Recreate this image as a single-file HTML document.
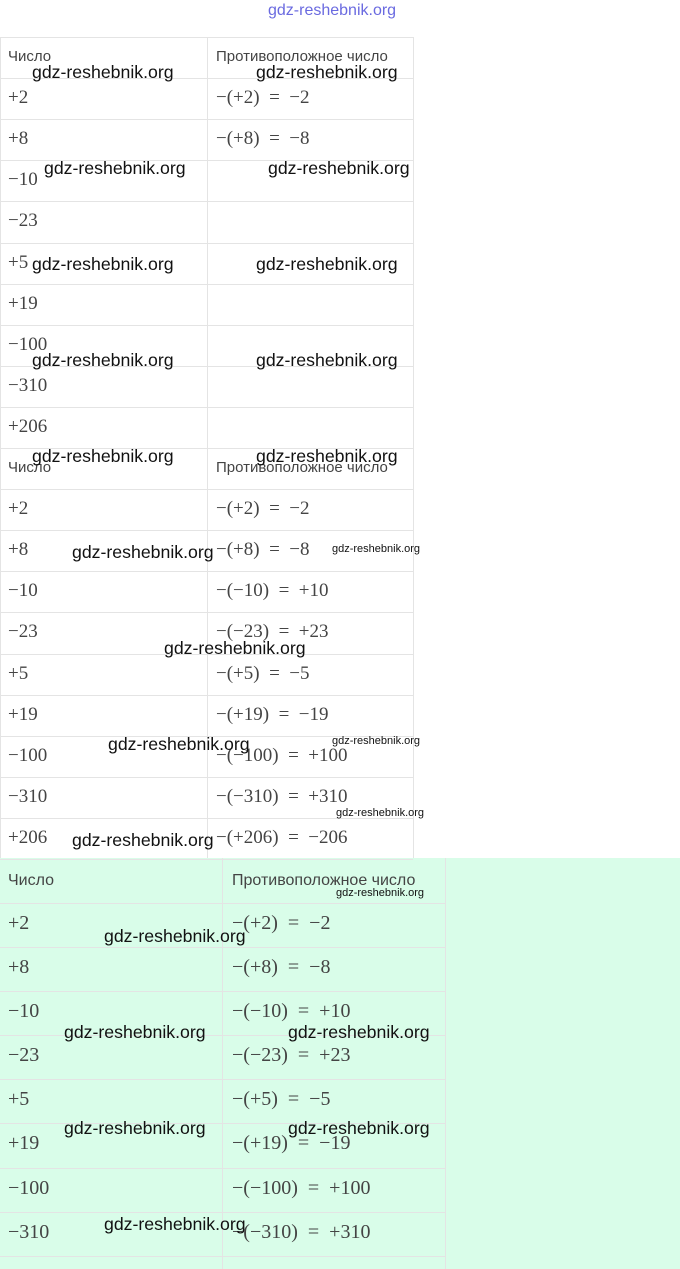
<!DOCTYPE html>
<html><head><meta charset="utf-8"><style>
body{margin:0;width:680px;height:1269px;position:relative;background:#fff;overflow:hidden;font-family:"Liberation Sans",sans-serif}
.a{position:absolute}
.h{position:absolute;height:1px;background:#e4e4e4}
.v{position:absolute;width:1px;background:#e4e4e4}
.m{position:absolute;font-family:"Liberation Serif",serif;font-size:19px;color:#444;white-space:pre}
.t{position:absolute;font-size:15px;color:#444;white-space:pre}
.w{position:absolute;font-size:17.7px;color:#111;white-space:pre}
.ws{position:absolute;font-size:11px;color:#111;white-space:pre}
</style></head><body>
<div class="a" style="left:268px;top:2px;font-size:16px;color:#6a6ae0;">gdz-reshebnik.org</div>
<div class="a" style="left:0;top:858px;width:680px;height:411px;background:#d9fde9"></div>
<div id="g"></div>
<script>
var g=document.getElementById('g'),s='';
function H(x,y,w){s+='<div class="h" style="left:'+x+'px;top:'+y+'px;width:'+w+'px"></div>';}
function V(x,y,h){s+='<div class="v" style="left:'+x+'px;top:'+y+'px;height:'+h+'px"></div>';}
function M(x,y,t){s+='<div class="m" style="left:'+x+'px;top:'+y+'px">'+t+'</div>';}
function T(x,y,t){s+='<div class="t" style="left:'+x+'px;top:'+y+'px">'+t+'</div>';}
var nums=['+2','+8','−10','−23','+5','+19','−100','−310','+206'];
var opp=['−(+2) = −2','−(+8) = −8','−(−10) = +10','−(−23) = +23','−(+5) = −5','−(+19) = −19','−(−100) = +100','−(−310) = +310','−(+206) = −206'];
opp=opp.map(function(o){return o.replace(' = ','  =  ');});
var y0=37,rh=41.1;
for(var i=0;i<=10;i++)H(0,Math.round(y0+i*rh),413);
V(0,37,821);V(207,37,821);V(413,37,821);
T(8,48,'Число');T(216,48,'Противоположное число');
for(i=0;i<9;i++){var y=Math.round(y0+(i+1)*rh)+9;M(8,y,nums[i]);if(i<2)M(216,y,opp[i]);}
y0=448;
for(i=1;i<=10;i++)H(0,Math.round(y0+i*rh),413);
T(8,459,'Число');T(216,459,'Противоположное число');
for(i=0;i<9;i++){var y=Math.round(y0+(i+1)*rh)+9;M(8,y,nums[i]);M(216,y,opp[i]);}
var r3=[858,903,947,991,1035,1079,1123,1168,1212,1256];
for(i=1;i<r3.length;i++)H(0,r3[i],445);
V(222,858,411);V(445,858,411);
s+='<div class="t" style="left:8px;top:872px;font-size:16px">Число</div><div class="t" style="left:232px;top:872px;font-size:16px">Противоположное число</div>';
for(i=0;i<8;i++){var y=r3[i+1]+9;s+='<div class="m" style="left:8px;top:'+y+'px;font-size:20px">'+nums[i]+'</div><div class="m" style="left:232px;top:'+y+'px;font-size:20px">'+opp[i]+'</div>';}
var W=[[32,62],[256,62],[44,158],[268,158],[32,254],[256,254],[32,350],[256,350],[32,446],[256,446],[72,542],[164,638],[108,734],[72,830],[104,926],[64,1022],[288,1022],[64,1118],[288,1118],[104,1214]];
W.forEach(function(p){s+='<div class="w" style="left:'+p[0]+'px;top:'+p[1]+'px">gdz-reshebnik.org</div>';});
[[332,543],[332,735],[336,807],[336,887]].forEach(function(p){s+='<div class="ws" style="left:'+p[0]+'px;top:'+p[1]+'px">gdz-reshebnik.org</div>';});
g.innerHTML=s;
</script>
</body></html>
